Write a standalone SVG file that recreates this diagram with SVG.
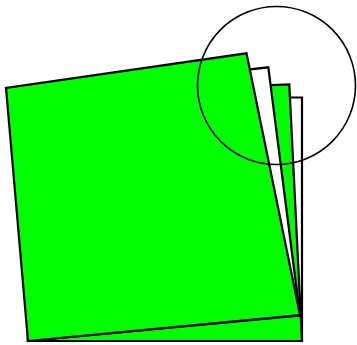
<svg xmlns="http://www.w3.org/2000/svg" width="357" height="345" viewBox="0 0 357 345">
<style>
.sheet{stroke:#000;stroke-width:2.2;stroke-linejoin:miter}
.g{fill:#00ff00}
.w{fill:#ffffff}
.ring{fill:none;stroke:#000;stroke-width:1.6}
</style>
<rect width="357" height="345" fill="#fff"/>
<g id="sheet-back"><polygon class="sheet w" points="28,341 302,341 302,97.5 28,97.5"/></g>
<g id="sheet-2"><polygon class="sheet g" points="28,341 302,341 289.3,84.3 28,95"/></g>
<g id="sheet-3"><polygon class="sheet w" points="28,341 300,315.5 268.3,67.3 28,95"/></g>
<g id="sheet-front"><polygon class="sheet g" points="28,341 300,315 246.5,53.3 6,88"/></g>
<g id="lens"><circle class="ring" cx="276.5" cy="85.5" r="79"/></g>
</svg>
